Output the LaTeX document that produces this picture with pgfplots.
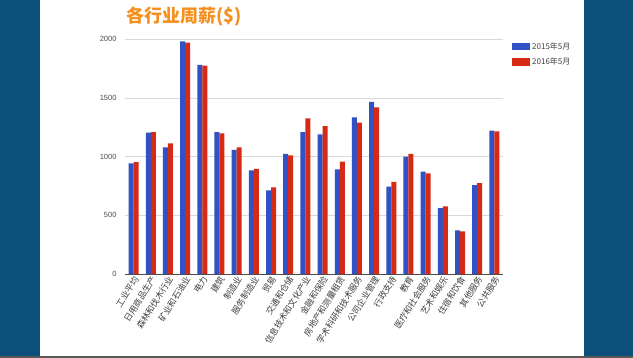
\documentclass[border=0pt]{standalone}
\usepackage{pgfplots}
\pgfplotsset{compat=1.18}
\usepackage{fontspec}
\setmainfont{Liberation Sans}
\newfontfamily\cjk{Noto Sans CJK SC}
\definecolor{band}{RGB}{11,80,122}
\definecolor{gblue}{RGB}{48,82,196}
\definecolor{gred}{RGB}{214,42,22}
\definecolor{gorange}{RGB}{245,144,30}
\begin{document}
\begin{tikzpicture}
\useasboundingbox (0,0) rectangle (633pt,358pt);
\fill[white] (0,0) rectangle (633pt,358pt);
\fill[band] (0,0) rectangle (40pt,358pt);
\fill[band] (584pt,0) rectangle (633pt,358pt);
\fill[black!65] (0,0) rectangle (633pt,2pt);
\node[anchor=base west, inner sep=0pt, text=gorange, font=\cjk\bfseries\fontsize{18}{20}\selectfont] at (126pt,335pt) {各行业周薪(\$)};
\begin{axis}[
  at={(125pt,84pt)}, anchor=south west,
  width=378pt, height=234.7pt, scale only axis,
  ybar, bar width=5pt, ybar=0pt,
  xmin=-0.5, xmax=21.5, ymin=0, ymax=2000,
  xtick=data,
  xticklabels={工业平均,日用商品生产,森林和伐木行业,矿业和石油业,电力,建筑,制造业,服务制造业,贸易,交通和仓储,信息技术和文化产业,金融和保险,房地产和测量租赁,学术科研和技术服务,公司企业管理,行政支持,教育,医疗和社会服务,艺术和娱乐,住宿和饮食,其他服务,公共服务},
  xticklabel style={font=\cjk\fontsize{8.6}{9}\selectfont, rotate=58, anchor=east, text=black!75, yshift=-4pt, inner sep=1pt},
  ytick={0,500,1000,1500,2000},
  yticklabel style={font=\fontsize{7.5}{9}\selectfont, text=black!70, xshift=-5pt},
  /pgf/number format/assume math mode=true,
  /pgf/number format/1000 sep={},
  ymajorgrids, grid style={black!15, line width=0.6pt},
  axis x line*=bottom, axis y line*=left,
  y axis line style={draw=none},
  x axis line style={draw=black!70, line width=0.8pt, -},
  major tick length=0pt,
  legend image code/.code={\fill[#1] (0pt,-3.7pt) rectangle (18pt,3.7pt);},
  legend style={draw=none, fill=none, at={(1.0,1.0)}, anchor=north west, xshift=9pt, yshift=-1pt,
    font=\cjk\fontsize{8}{9}\selectfont, text=black!75, row sep=3pt, inner sep=0pt},
  legend cell align=left,
]
\addplot[fill=gblue, draw=none] coordinates {(0,943) (1,1204) (2,1080) (3,1983) (4,1781) (5,1210) (6,1057) (7,884) (8,713) (9,1023) (10,1210) (11,1190) (12,892) (13,1335) (14,1466) (15,744) (16,1000) (17,872) (18,562) (19,372) (20,758) (21,1221)};
\addplot[fill=gred, draw=none] coordinates {(0,954) (1,1210) (2,1114) (3,1971) (4,1775) (5,1199) (6,1080) (7,895) (8,739) (9,1011) (10,1327) (11,1261) (12,957) (13,1290) (14,1420) (15,784) (16,1023) (17,858) (18,577) (19,364) (20,775) (21,1216)};
\legend{2015年5月,2016年5月}
\end{axis}
\end{tikzpicture}
\end{document}
